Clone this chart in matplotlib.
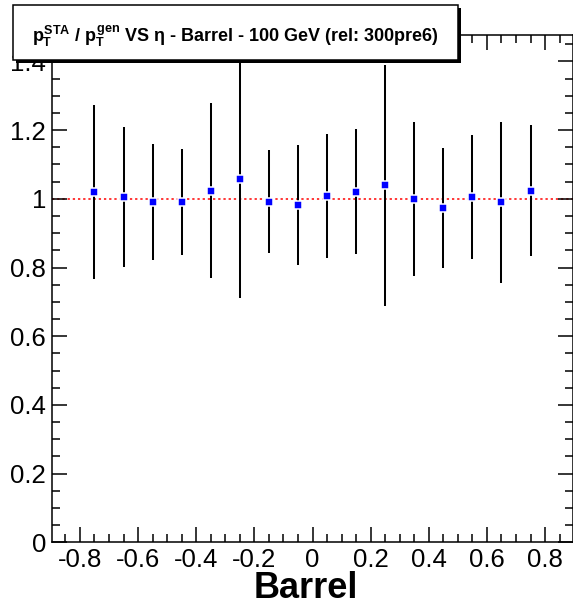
import matplotlib
matplotlib.use("Agg")
import matplotlib.pyplot as plt
from matplotlib.patches import Rectangle
from matplotlib.ticker import MultipleLocator, FuncFormatter

plt.rcParams['font.family'] = ['Liberation Sans', 'DejaVu Sans']
plt.rcParams['mathtext.fontset'] = 'custom'
plt.rcParams['mathtext.rm'] = 'Liberation Sans:bold'
plt.rcParams['mathtext.it'] = 'Liberation Sans:bold'
plt.rcParams['mathtext.bf'] = 'Liberation Sans:bold'

# data
eta = [-0.75, -0.65, -0.55, -0.45, -0.35, -0.25, -0.15, -0.05,
       0.05, 0.15, 0.25, 0.35, 0.45, 0.55, 0.65, 0.75]
ratio = [1.020, 1.005, 0.991, 0.991, 1.024, 1.058, 0.991, 0.981,
         1.009, 1.021, 1.039, 1.000, 0.973, 1.005, 0.990, 1.024]
err = [0.254, 0.203, 0.169, 0.155, 0.254, 0.346, 0.150, 0.175,
       0.181, 0.183, 0.351, 0.225, 0.174, 0.181, 0.234, 0.191]
title = r"$p_T^{STA}$ / $p_T^{gen}$ VS η - Barrel - 100 GeV (rel: 300pre6)"
xlabel = "Barrel"

W, H = 573, 607
fig = plt.figure(figsize=(W / 100, H / 100), dpi=100)
left, right, top, bottom = 52.3, 572.7, 34.7, 542.2
ax = fig.add_axes([left / W, 1 - bottom / H, (right - left) / W, (bottom - top) / H])

ax.axhline(1.0, color=(1, 0, 0), lw=1.1, linestyle=(0, (1.5, 1.9)), zorder=1)
ax.errorbar(eta, ratio, yerr=err, fmt='none', ecolor='black', elinewidth=1.45,
            capsize=0, zorder=2)
ax.plot(eta, ratio, 's', color=(0, 0, 1), ms=5.4, mec='white', mew=1.1, zorder=3)

ax.set_xlim(-0.895, 0.895)
ax.set_ylim(0, 1.478)

ax.xaxis.set_major_locator(MultipleLocator(0.2))
ax.xaxis.set_minor_locator(MultipleLocator(0.05))
ax.yaxis.set_major_locator(MultipleLocator(0.2))
ax.yaxis.set_minor_locator(MultipleLocator(0.05))
fmt = FuncFormatter(lambda v, p: ("%g" % round(v, 3)))
ax.xaxis.set_major_formatter(fmt)
ax.yaxis.set_major_formatter(fmt)

ax.tick_params(which='both', direction='in', top=True, right=True, width=1.1,
               colors='black', labelsize=18.5)
ax.tick_params(which='major', length=11)
ax.tick_params(which='minor', length=6)
ax.tick_params(axis='x', which='major', pad=4.0)
ax.tick_params(axis='y', which='major', pad=4.5)
for s in ax.spines.values():
    s.set_linewidth(1.1)
    s.set_color('black')

fig.text(306 / W, 1 - 598 / H, xlabel, ha='center', va='baseline',
         fontsize=26, fontweight='bold')

# title box with shadow
bx0, bx1, by0, by1 = 13, 458, 5, 60
fig.patches.append(Rectangle(((bx0 + 3) / W, 1 - (by1 + 3) / H), (bx1 - bx0) / W,
                             (by1 - by0) / H, transform=fig.transFigure,
                             facecolor='black', edgecolor='black', lw=0, zorder=10))
fig.patches.append(Rectangle((bx0 / W, 1 - by1 / H), (bx1 - bx0) / W, (by1 - by0) / H,
                             transform=fig.transFigure, facecolor='white',
                             edgecolor='black', lw=1.1, zorder=11))
fig.text((bx0 + bx1) / 2 / W, 1 - 42 / H, title, ha='center', va='baseline',
         fontsize=13, fontweight='bold', zorder=12)

fig.savefig("out.png", dpi=100)
